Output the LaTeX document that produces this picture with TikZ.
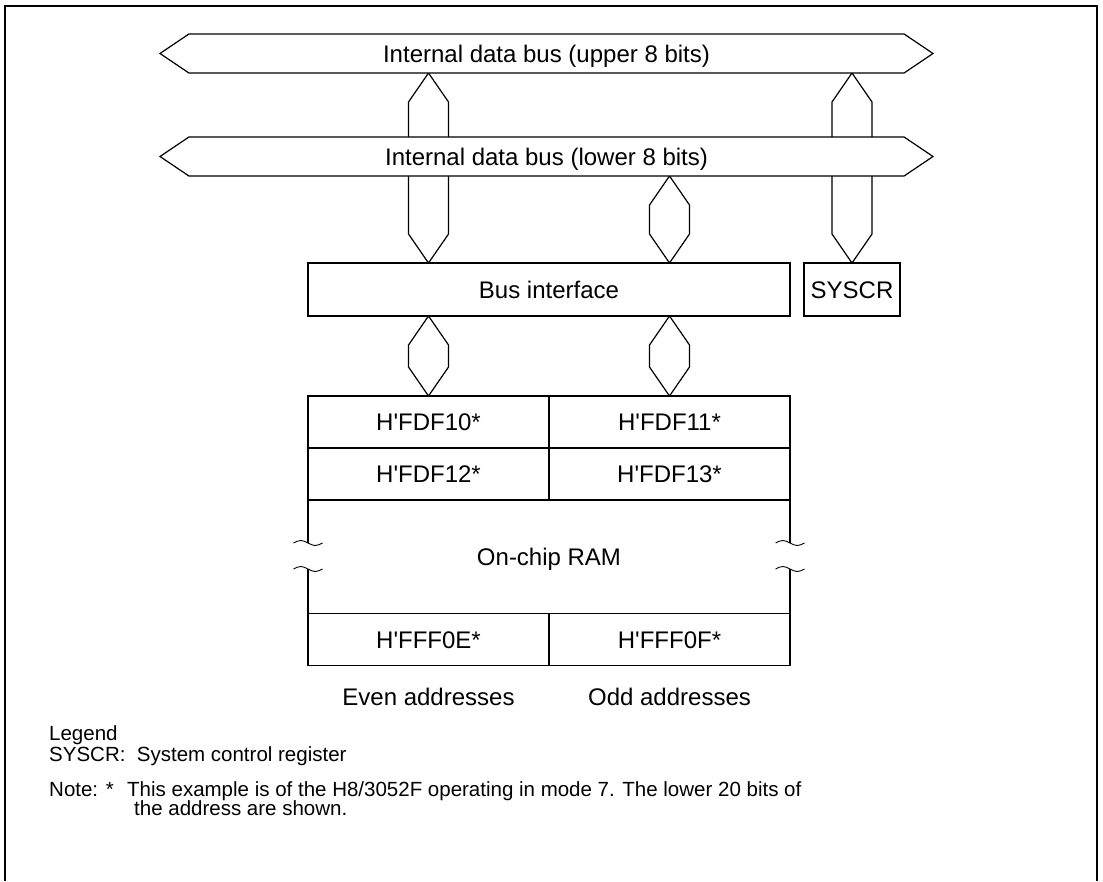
\documentclass[tikz,border=0pt]{standalone}
\usepackage{fontspec}
\setmainfont{Liberation Sans}
\usetikzlibrary{calc,shapes.arrows,backgrounds}
\newcommand{\blockfont}{\fontsize{24}{28}\selectfont}
\newcommand{\notefont}{\fontsize{20.5}{21}\selectfont}
\newcommand{\hq}{\textquotesingle}

\begin{document}
\begin{tikzpicture}[x=1pt,y=-1pt,
  bus/.style={double arrow,draw,fill=white,line width=1.2pt,outer sep=0pt,
              double arrow head extend=0pt,double arrow tip angle=68,
              minimum height=773pt,minimum width=39pt,inner sep=0pt,
              font=\blockfont,text height=17.2pt,text depth=0pt},
  box/.style={draw,line width=1.2pt,minimum height=53pt,inner sep=0pt,outer sep=0pt,
              font=\blockfont,text height=17.2pt,text depth=0pt},
  cell/.style={draw,line width=1.2pt,minimum width=241pt,minimum height=52pt,
               inner sep=0pt,outer sep=0pt,
               font=\blockfont,text height=17.2pt,text depth=0pt},
  vbus/.style={line width=1.2pt,
               to path={-- ++(-20,29) -- ($(\tikztotarget)+(-20,-29)$)
                        -- (\tikztotarget) -- ++(20,-29)
                        -- ($(\tikztostart)+(20,29)$) -- cycle}},
  lbl/.style={font=\blockfont,inner sep=0pt,text height=17.2pt,text depth=0pt},
  legend/.style={font=\notefont,inner sep=0pt,anchor=base west}]
  \useasboundingbox (0,0) rectangle (1103,881);
  \draw[line width=2pt] (5,881) -- (5,6) -- (1097,6) -- (1097,881);

  % data buses
  \node[bus] (ubus) at (546.5,53.5)  {Internal data bus (upper 8 bits)};
  \node[bus] (lbus) at (546.5,156.5) {Internal data bus (lower 8 bits)};

  \node[box,minimum width=482pt] (bif)   at (549,289.5) {Bus interface};
  \node[box,minimum width=96pt]  (syscr) at (852,289.5) {SYSCR};

  % on-chip RAM
  \node[cell] (c10) at (428.5,422)   {H\hq FDF10*};
  \node[cell] (c11) at (669.5,422)   {H\hq FDF11*};
  \node[cell] (c12) at (428.5,474)   {H\hq FDF12*};
  \node[cell] (c13) at (669.5,474)   {H\hq FDF13*};
  \node[cell] (cE)  at (428.5,639.5) {H\hq FFF0E*};
  \node[cell] (cF)  at (669.5,639.5) {H\hq FFF0F*};
  \node[lbl]  (ram) at (549,557)     {On-chip RAM};
  \coordinate (cutA) at (308,543); \coordinate (cutB) at (308,569);
  \coordinate (cutC) at (790,543); \coordinate (cutD) at (790,569);
  \draw[line width=1.2pt] (c12.south west) -- (cutA) (cutB) -- (cE.north west);
  \draw[line width=1.2pt] (c13.south east) -- (cutC) (cutD) -- (cF.north east);
  \foreach \c in {cutA,cutB,cutC,cutD}
    \draw[line width=0.9pt] ($(\c)+(-14.5,0)$) sin ++(7.25,-2.5) cos ++(7.25,2.5)
          sin ++(7.25,2.5) cos ++(7.25,-2.5);

  \node[lbl] (even) at (428.5,697) {Even addresses};
  \node[lbl] (odd)  at (669.5,697) {Odd addresses};

  \begin{scope}[on background layer]
    \draw[vbus] (c10 |- ubus.south) to (c10 |- bif.north);
    \draw[vbus] (syscr |- ubus.south) to (syscr.north);
    \draw[vbus] (c11 |- lbus.south) to (c11 |- bif.north);
    \draw[vbus] (c10 |- bif.south) to (c10.north);
    \draw[vbus] (c11 |- bif.south) to (c11.north);
  \end{scope}

  % legend and note
  \node[legend] (leg)    at (49,740) {Legend};
  \node[legend] (legsys) at (49,761) {SYSCR:\ \ System control register};
  \node[legend] (notehd) at (49,796) {Note: *};
  \node[legend] (note1)  at (127,796)
    {This example is of the H8/3052F operating in mode 7. The lower 20 bits of};
  \node[legend] (note2)  at (134,815) {the address are shown.};
\end{tikzpicture}
\end{document}
